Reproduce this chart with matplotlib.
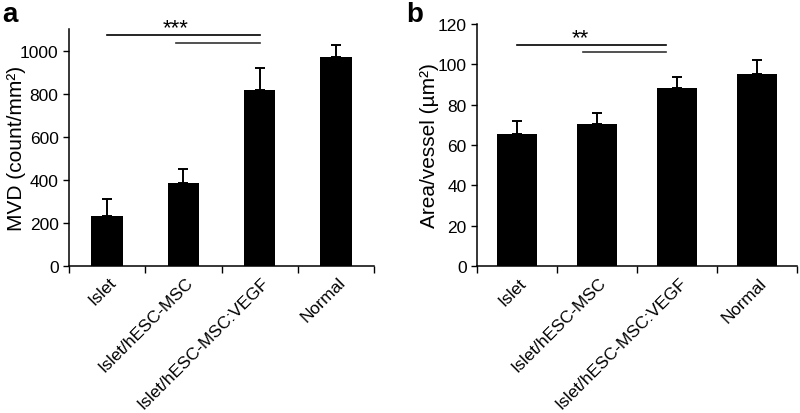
import numpy as np
import matplotlib.pyplot as plt

plt.rcParams['font.family'] = ['Liberation Sans', 'DejaVu Sans']

# groups shared by both panels
groups = ["Islet", "Islet/hESC-MSC", "Islet/hESC-MSC:VEGF", "Normal"]

# panel a: microvessel density
mvd = [230, 385, 818, 972]
mvd_err = [83, 65, 103, 55]

# panel b: area per vessel
area = [65.5, 70.5, 88.3, 95.2]
area_err = [6.5, 5.6, 5.5, 7.0]

fig = plt.figure(figsize=(8, 4.14), dpi=100)
ax_a = fig.add_axes([0.08625, 0.355, 0.38125, 0.5725])
ax_b = fig.add_axes([0.59625, 0.355, 0.40, 0.5846])


def draw_panel(ax, vals, errs, width, ylim, yticks, ylabel):
    x = np.arange(len(groups))
    ax.bar(x, vals, width=width, color="black", zorder=2)
    ax.errorbar(x, vals, yerr=[np.zeros(len(errs)), errs], fmt="none",
                ecolor="black", elinewidth=1.4, capsize=3.5, capthick=1.4, zorder=1)
    ax.set_xlim(-0.5, len(groups) - 0.5)
    ax.set_ylim(*ylim)
    ax.set_yticks(yticks)
    ax.set_xticks(np.arange(len(groups) + 1) - 0.5)
    ax.set_xticklabels([])
    ax.tick_params(axis="x", length=5, width=1, direction="out")
    ax.tick_params(axis="y", length=4, width=1, direction="out", labelsize=12.5, pad=3.5)
    for i, g in enumerate(groups):
        ax.text(i + 0.02, -0.035, g, transform=ax.get_xaxis_transform(), rotation=45,
                ha="right", va="top", rotation_mode="anchor", fontsize=12.5)
    for s in ["top", "right"]:
        ax.spines[s].set_visible(False)
    for s in ["left", "bottom"]:
        ax.spines[s].set_linewidth(1.1)
    ax.set_ylabel(ylabel, fontsize=15)


draw_panel(ax_a, mvd, mvd_err, 0.41, (0, 1100), np.arange(0, 1001, 200),
           "MVD (count/mm\u00b2)")
ax_a.yaxis.set_label_coords(-0.14, 0.5)
ax_a.plot([0, 2], [1072, 1072], color="black", lw=1.2, clip_on=False)
ax_a.plot([0.9, 2], [1034, 1034], color="#333333", lw=1.2, clip_on=False)
ax_a.text(0.9, 1080, "***", ha="center", va="baseline", fontsize=16, clip_on=False)

draw_panel(ax_b, area, area_err, 0.5, (0, 120), np.arange(0, 121, 20),
           "Area/vessel (\u00b5m\u00b2)")
ax_b.yaxis.set_label_coords(-0.12, 0.5)
ax_b.plot([0, 1.86], [109.6, 109.6], color="black", lw=1.2, clip_on=False)
ax_b.plot([0.83, 1.86], [105.9, 105.9], color="#333333", lw=1.2, clip_on=False)
ax_b.text(0.79, 110.5, "**", ha="center", va="baseline", fontsize=16, clip_on=False)

fig.text(0.003, 0.995, "a", fontsize=20, fontweight="bold", va="top", ha="left")
fig.text(0.508, 0.995, "b", fontsize=20, fontweight="bold", va="top", ha="left")

fig.savefig("out.png", dpi=100)
